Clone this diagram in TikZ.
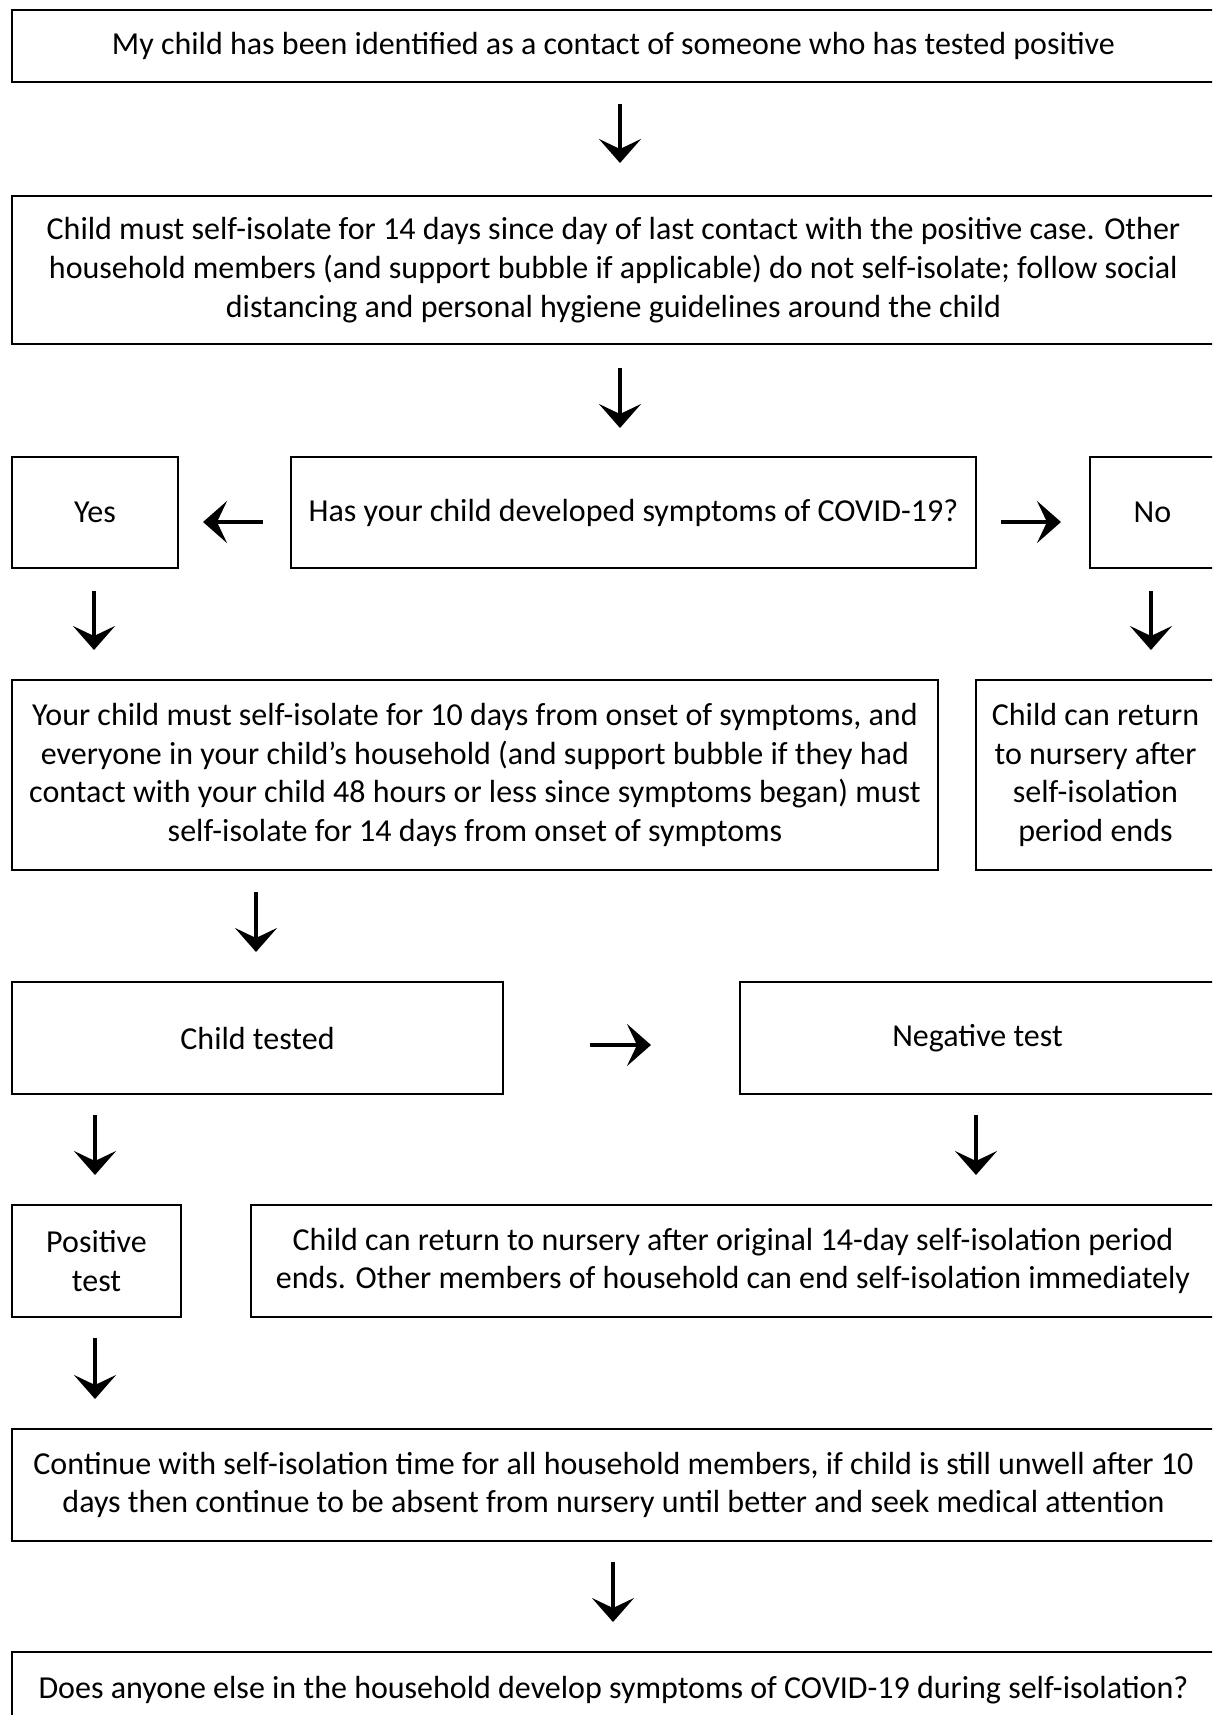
\documentclass[tikz,border=0pt]{standalone}
\usepackage{fontspec}
\setmainfont{Carlito}
\usetikzlibrary{arrows.meta}
\tikzset{
  box/.style={draw=black, line width=1pt, inner sep=0pt, align=center, anchor=north west,
    font=\fontsize{16}{19.4}\selectfont},
  arr/.style={line width=1.7pt, -{Stealth[length=12pt, width=21pt, inset=5pt]}},
  harr/.style={arr, line width=2.1pt}
}
\begin{document}
\begin{tikzpicture}[x=0.5pt, y=-0.5pt]
\useasboundingbox (0,0) rectangle (1212,1715);
\clip (0,0) rectangle (1212,1715);
% boxes (sizes in pt = px/2)
\node[box, minimum width=601.5pt, minimum height=36pt] (b1) at (11,9)
  {My child has been identified as a contact of someone who has tested positive};
\node[box, minimum width=601.5pt, minimum height=74pt] (b2) at (11,195)
  {Child must self-isolate for 14 days since day of last contact with the positive case. Other\\
   household members (and support bubble if applicable) do not self-isolate; follow social\\
   distancing and personal hygiene guidelines around the child};
\node[box, minimum width=83pt, minimum height=55.5pt] (yes) at (11,456) {Yes};
\node[box, minimum width=342.5pt, minimum height=55.5pt] (q) at (290,456) {Has your child developed symptoms of COVID-19?};
\node[box, minimum width=62.5pt, minimum height=55.5pt] (no) at (1089,456) {No};
\node[box, minimum width=463pt, minimum height=95pt] (yc) at (11,679)
  {Your child must self-isolate for 10 days from onset of symptoms, and\\
   everyone in your child’s household (and support bubble if they had\\
   contact with your child 48 hours or less since symptoms began) must\\
   self-isolate for 14 days from onset of symptoms};
\node[box, minimum width=119.5pt, minimum height=95pt] (cr) at (975,679)
  {Child can return\\ to nursery after\\ self-isolation\\ period ends};
\node[box, minimum width=245.5pt, minimum height=56pt] (ct) at (11,981) {Child tested};
\node[box, minimum width=237.5pt, minimum height=56pt] (neg) at (739,981) {Negative test};
\node[box, minimum width=84.5pt, minimum height=56pt] (pos) at (11,1204) {Positive\\ test};
\node[box, minimum width=482pt, minimum height=56pt] (cr2) at (250,1204)
  {Child can return to nursery after original 14-day self-isolation period\\
   ends. Other members of household can end self-isolation immediately};
\node[box, minimum width=601.5pt, minimum height=56pt] (cont) at (11,1428)
  {Continue with self-isolation time for all household members, if child is still unwell after 10\\
   days then continue to be absent from nursery until better and seek medical attention};
\node[box, minimum width=601.5pt, minimum height=38pt] (last) at (11,1651)
  {Does anyone else in the household develop symptoms of COVID-19 during self-isolation?};
% arrow end points
\coordinate (a1s) at (620,104);  \coordinate (a1e) at (620,163);
\coordinate (a2s) at (620,368);  \coordinate (a2e) at (620,428);
\coordinate (a5s) at (94,591);   \coordinate (a5e) at (94,650);
\coordinate (a6s) at (1151,591); \coordinate (a6e) at (1151,650);
\coordinate (a7s) at (256,892);  \coordinate (a7e) at (256,952);
\coordinate (a9s) at (95,1115);  \coordinate (a9e) at (95,1175);
\coordinate (a10s) at (976,1115); \coordinate (a10e) at (976,1175);
\coordinate (a11s) at (95,1338); \coordinate (a11e) at (95,1399);
\coordinate (a12s) at (613,1562); \coordinate (a12e) at (613,1622);
\coordinate (a3s) at (263,522);  \coordinate (a3e) at (203,522);
\coordinate (a4s) at (1001,522); \coordinate (a4e) at (1061,522);
\coordinate (a8s) at (590,1045); \coordinate (a8e) at (651,1045);
\foreach \i in {1,2,5,6,7,9,10,11,12} { \draw[arr] (a\i s) -- (a\i e); }
\foreach \i in {3,4,8} { \draw[harr] (a\i s) -- (a\i e); }
\end{tikzpicture}
\end{document}
